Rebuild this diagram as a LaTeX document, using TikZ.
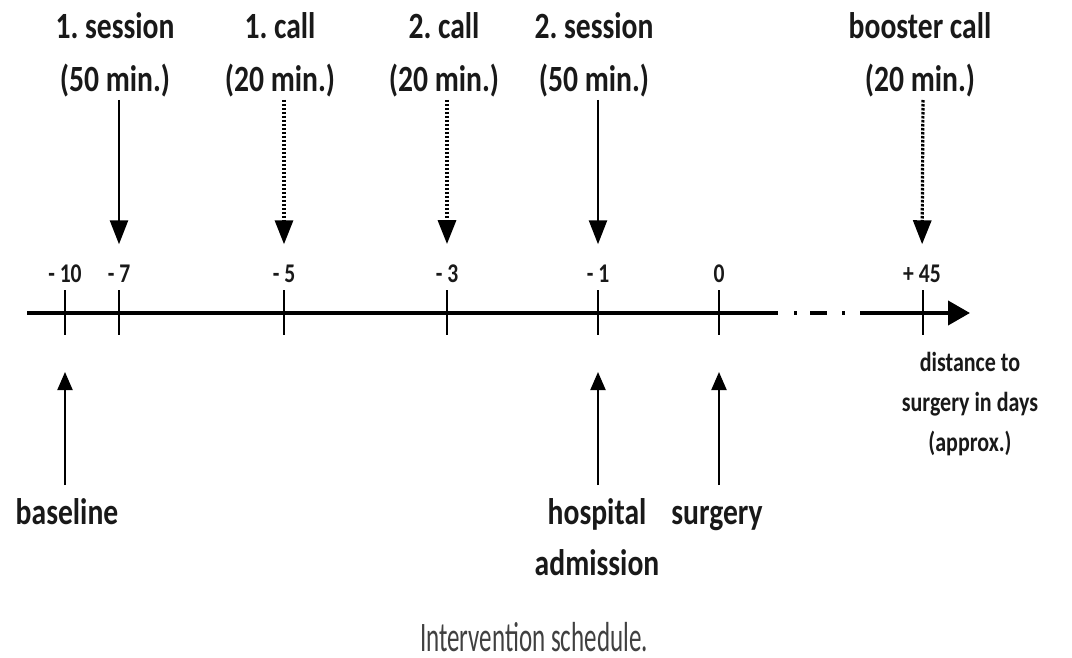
\documentclass[tikz,border=0pt]{standalone}
\usepackage{fontspec}
\setmainfont{Carlito}[FakeStretch=0.8]
\newfontfamily\capfont[FakeStretch=0.595]{Carlito}
\usetikzlibrary{arrows.meta,positioning}
\frenchspacing

\begin{document}
\begin{tikzpicture}[x=1pt,y=-1pt]
    \tikzstyle{every node}+=[inner sep=0pt, text=black!90]
    \tikzstyle{toplabel}=[font=\bfseries\fontsize{37}{53}\selectfont, align=center, anchor=south]
    \tikzstyle{ticklabel}=[font=\bfseries\fontsize{27}{30}\selectfont, anchor=base]
    \tikzstyle{botlabel}=[font=\bfseries\fontsize{37}{51}\selectfont, align=center, anchor=north]
    \tikzstyle{axisline}=[line width=4pt]
    \tikzstyle{tickmark}=[line width=2pt]
    \tikzstyle{session}=[line width=2.5pt, -{Triangle[length=24pt,width=18pt]}]
    \tikzstyle{call}=[session, line width=3.2pt, dash pattern=on 2.5pt off 1.5pt]
    \tikzstyle{event}=[line width=2pt, -{Triangle[length=18pt,width=15pt]}]
    \useasboundingbox (0,0) rectangle (1072,658);
    % time axis
    \coordinate (ax0) at (27,313);
    \coordinate (brk) at (778,313);
    \coordinate (res) at (860,313);
    \coordinate (ax1) at (970,313);
    \draw [axisline] (ax0) -- (brk);
    \draw [axisline, dash pattern=on 0pt off 16pt on 3pt off 13pt on 17pt off 15pt on 3pt off 15pt] (brk) -- (res);
    \draw [axisline, -{Triangle[length=22pt,width=24pt]}] (res) -- (ax1);
    % ticks
    \coordinate (m10) at (65,313);
    \coordinate (m7) at (119,313);
    \coordinate (m5) at (284,313);
    \coordinate (m3) at (447,313);
    \coordinate (m1) at (598,313);
    \coordinate (m0) at (719,313);
    \coordinate (m45) at (923,313);
    \draw [tickmark] ([yshift=23pt]m10) -- ([yshift=-22pt]m10);
    \draw [tickmark] ([yshift=23pt]m7) -- ([yshift=-22pt]m7);
    \draw [tickmark] ([yshift=23pt]m5) -- ([yshift=-22pt]m5);
    \draw [tickmark] ([yshift=23pt]m3) -- ([yshift=-22pt]m3);
    \draw [tickmark] ([yshift=23pt]m1) -- ([yshift=-22pt]m1);
    \draw [tickmark] ([yshift=23pt]m0) -- ([yshift=-22pt]m0);
    \draw [tickmark] ([yshift=23pt]m45) -- ([yshift=-22pt]m45);
    \node [ticklabel] (n10) at (65,282) {- 10};
    \node [ticklabel] (n7) at (119,282) {- 7};
    \node [ticklabel] (n5) at (284,282) {- 5};
    \node [ticklabel] (n3) at (447,282) {- 3};
    \node [ticklabel] (n1) at (598,282) {- 1};
    \node [ticklabel] (n0) at (719,282) {0};
    \node [ticklabel] (n45) at (922,282) {+ 45};
    % sessions and calls
    \node [toplabel] (ses1) at (115,97) {1. session\\(50 min.)};
    \node [toplabel] (call1) at (280,97) {1. call\\(20 min.)};
    \node [toplabel] (call2) at (444,97) {2. call\\(20 min.)};
    \node [toplabel] (ses2) at (594,97) {2. session\\(50 min.)};
    \node [toplabel] (boost) at (920,97) {booster call\\(20 min.)};
    \draw [session, shorten <=3pt, shorten >=20pt] (ses1.south -| m7) -- (n7.north);
    \draw [call, shorten <=3pt, shorten >=20pt] (call1.south -| m5) -- (n5.north);
    \draw [call, shorten <=3pt, shorten >=20pt] (call2.south -| m3) -- (n3.north);
    \draw [session, shorten <=3pt, shorten >=20pt] (ses2.south -| m1) -- (n1.north);
    \draw [call, shorten <=3pt, shorten >=20pt] (boost.south -| m45) -- (n45.north);
    % events below the axis
    \node [botlabel] (basel) at (67,498) {baseline};
    \node [botlabel] (hosp) at (597,498) {hospital\\admission};
    \node [botlabel] (surg) at (717,498) {surgery\vphantom{h}};
    \draw [event, shorten <=13pt, shorten >=59pt] (basel.north -| m10) -- (m10);
    \draw [event, shorten <=13pt, shorten >=59pt] (hosp.north -| m1) -- (m1);
    \draw [event, shorten <=13pt, shorten >=59pt] (surg.north -| m0) -- (m0);
    \node [font=\bfseries\fontsize{27.5}{40}\selectfont, align=center, anchor=north] (dist) at (970,352) {distance to\\surgery in days\\(approx.)};
    % caption
    \node [font=\capfont\fontsize{42}{50}\selectfont, text=black!75, anchor=base] (capt) at (534,651) {Intervention schedule.};
\end{tikzpicture}
\end{document}
